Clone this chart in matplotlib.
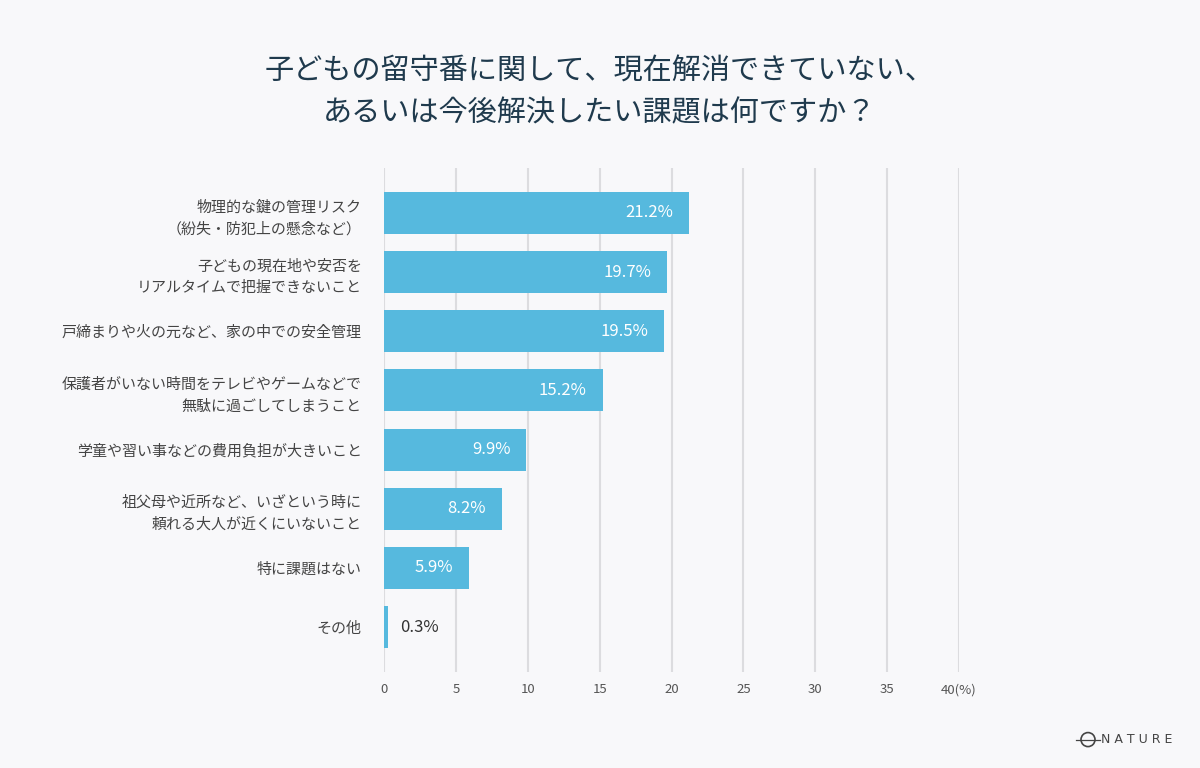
import matplotlib.pyplot as plt
from matplotlib.patches import Ellipse
from matplotlib.lines import Line2D

plt.rcParams['font.family'] = ['Noto Sans CJK JP', 'DejaVu Sans']

labels = [
    '物理的な鍵の管理リスク\n（紛失・防犯上の懸念など）',
    '子どもの現在地や安否を\nリアルタイムで把握できないこと',
    '戸締まりや火の元など、家の中での安全管理',
    '保護者がいない時間をテレビやゲームなどで\n無駄に過ごしてしまうこと',
    '学童や習い事などの費用負担が大きいこと',
    '祖父母や近所など、いざという時に\n頼れる大人が近くにいないこと',
    '特に課題はない',
    'その他',
]
values = [21.2, 19.7, 19.5, 15.2, 9.9, 8.2, 5.9, 0.3]
xticks = [0, 5, 10, 15, 20, 25, 30, 35, 40]
xticklabels = ['0', '5', '10', '15', '20', '25', '30', '35', '40(%)']

bg = '#f8f8fa'
bar_color = '#56b9de'

fig = plt.figure(figsize=(12, 7.68), dpi=100, facecolor=bg)
ax = fig.add_axes([0.32, 0.125, 0.4792, 0.65625], facecolor=bg)

ypos = list(range(len(values)))
ax.barh(ypos, values, height=0.71, color=bar_color, zorder=3)

for y, v in zip(ypos, values):
    if v > 3:
        ax.text(v - 1.1, y, f'{v}%', ha='right', va='center', color='white',
                fontsize=12, zorder=4)
    else:
        ax.text(v + 0.8, y, f'{v}%', ha='left', va='center', color='#333333',
                fontsize=12, zorder=4)

ax.set_xlim(0, 40)
ax.set_ylim(7.76, -0.76)
ax.set_xticks(xticks)
ax.set_xticklabels(xticklabels, fontsize=9.5, color='#555555')
ax.set_yticks(ypos)
ax.set_yticklabels(labels, fontsize=10.8, color='#444444', linespacing=1.65)
ax.tick_params(axis='x', length=0, pad=8)
ax.tick_params(axis='y', length=0, pad=16)
ax.grid(axis='x', color='#dcdcdf', linewidth=1.5, zorder=0)
for s in ax.spines.values():
    s.set_visible(False)

fig.text(0.5, 0.88, '子どもの留守番に関して、現在解消できていない、\nあるいは今後解決したい課題は何ですか？',
         ha='center', va='center', fontsize=21, color='#1f3a4d', linespacing=1.5)

# logo
fig.text(0.977, 0.037, 'N A T U R E', ha='right', va='center', fontsize=9,
         color='#444444', family='DejaVu Sans')
fig.patches.append(Ellipse((1088 / 1200, 0.037), 14 / 1200, 14 / 768, transform=fig.transFigure,
                           fill=False, edgecolor='#444444', linewidth=1.2))
fig.lines.append(Line2D([1076 / 1200, 1100 / 1200], [0.037, 0.037],
                        transform=fig.transFigure, color='#444444', linewidth=0.9))

fig.savefig('out.png', dpi=100, facecolor=bg)
